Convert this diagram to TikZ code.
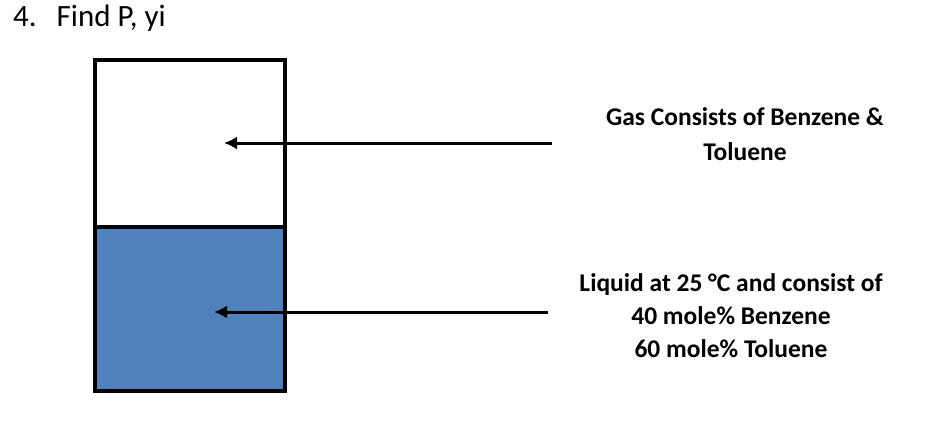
\documentclass[tikz,border=0pt]{standalone}
\usepackage{fontspec}
\setmainfont{Carlito}
\usetikzlibrary{arrows.meta}
\definecolor{liquidblue}{HTML}{4F81BD}

\begin{document}
\begin{tikzpicture}[
  vessel/.style={draw, line width=4pt, minimum width=190pt, inner sep=0pt},
  pointer/.style={draw, -{Latex[length=13pt,width=13pt]}, line width=3pt},
  note/.style={font=\fontsize{25.5}{33}\selectfont\bfseries, align=center, inner sep=0pt},
]
  \useasboundingbox (0pt,0pt) rectangle (947pt,-420pt);
  \node[anchor=west, inner sep=0pt, font=\fontsize{31}{36}\selectfont] (title) at (13pt,-18pt) {4.\hspace{20pt}Find P, yi};
  \node[vessel, minimum height=167pt] (gas) at (190pt,-143.5pt) {};
  \node[vessel, minimum height=164pt, fill=liquidblue] (liquid) at (190pt,-309pt) {};
  \node[note] (gaslabel) at (745pt,-134pt) {Gas Consists of Benzene \&\\[2pt]Toluene};
  \node[note] (liquidlabel) at (731pt,-316pt) {Liquid at 25 °C and consist of\\40 mole\% Benzene\\60 mole\% Toluene};
  \coordinate (gasfrom) at (552pt,-143pt);
  \coordinate (gasto) at (224pt,-143pt);
  \coordinate (liquidfrom) at (548pt,-312pt);
  \coordinate (liquidto) at (214pt,-312pt);
  \draw[pointer] (gasfrom) -- (gasto);
  \draw[pointer] (liquidfrom) -- (liquidto);
\end{tikzpicture}
\end{document}
